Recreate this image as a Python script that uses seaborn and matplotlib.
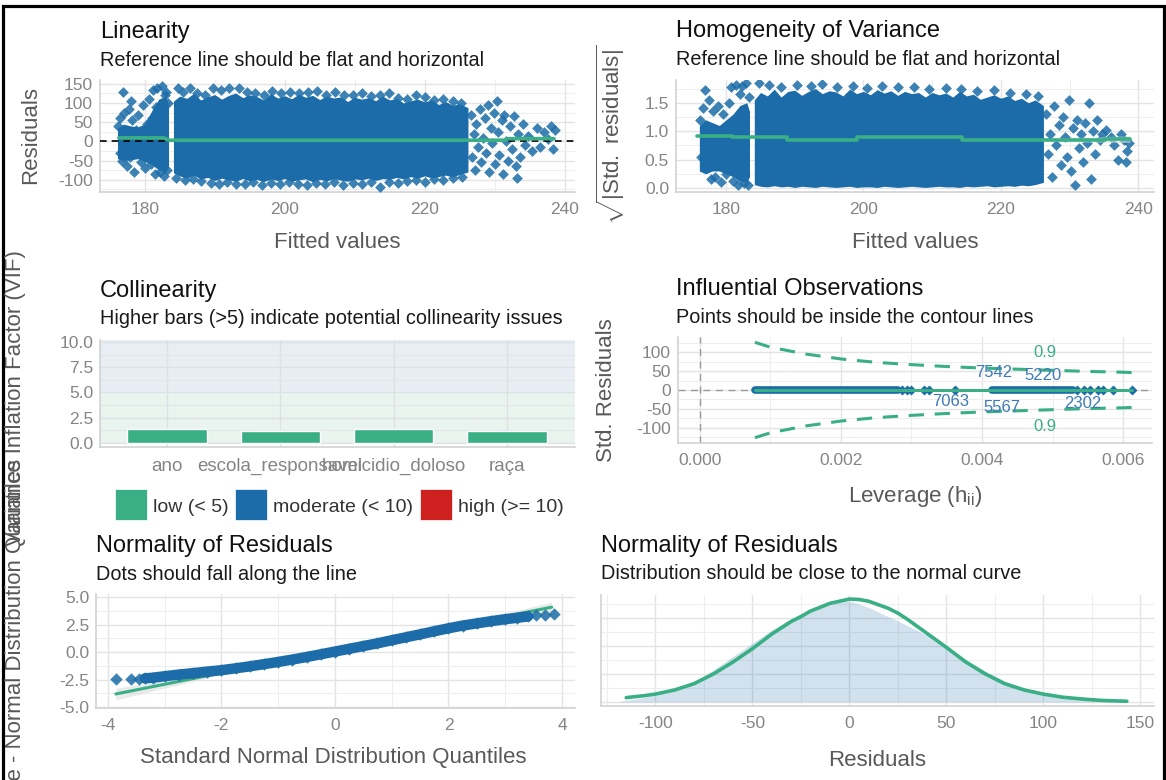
import matplotlib
matplotlib.use("Agg")
import matplotlib.pyplot as plt
import seaborn as sns
import pandas as pd
from matplotlib.patches import Rectangle
from matplotlib.ticker import MultipleLocator, FormatStrFormatter

# ---------------------------------------------------------------- data
# Fitted values vs residuals: dense cores given by lower/upper envelopes
core_left_x = [176.1, 177.0, 178.0, 179.0, 180.0, 181.0, 182.0, 183.0, 183.4]
core_main_x = [184.1, 185, 186, 187, 188, 189, 190, 191, 192, 193, 194, 195, 196, 197,
               198, 199, 200, 201, 202, 203, 204, 205, 206, 207, 208, 209, 210, 211,
               212, 213, 214, 215, 216, 217, 218, 219, 220, 221, 222, 223, 224, 225, 226.2]

lin_left_hi = [35, 45, 40, 38, 45, 80, 110, 118, 95]
lin_left_lo = [-45, -50, -48, -45, -52, -60, -75, -80, -65]
lin_main_hi = [105, 118, 112, 125, 108, 116, 122, 110, 120, 126, 114, 121, 117, 108,
               124, 113, 119, 111, 123, 115, 120, 109, 118, 113, 116, 104, 115, 110,
               114, 106, 118, 108, 112, 100, 106, 110, 103, 108, 96, 104, 94, 98, 88]
lin_main_lo = [-82, -90, -96, -88, -98, -94, -102, -96, -100, -104, -97, -103, -99, -105,
               -98, -102, -97, -104, -100, -98, -105, -99, -103, -97, -101, -104, -98, -100,
               -96, -102, -97, -99, -94, -98, -92, -96, -90, -95, -92, -88, -93, -86, -80]

# individual residuals: left block, edges of the main block, sparse right tail
lin_pts_x = [176.2, 176.4, 176.5, 176.7, 176.9, 177.2, 177.4, 177.7, 177.9, 178.2, 178.5,
             178.8, 179.1, 179.4, 179.7, 180.0, 180.3, 180.6, 180.9, 181.2, 181.5, 181.8,
             182.1, 182.4, 182.7, 183.0, 183.2, 183.3, 182.9, 182.2, 181.6, 181.0, 179.9,
             178.0, 177.0,
             184.7, 185.5, 186.4, 187.5, 188.6, 189.8, 190.9, 192.1, 193.4, 194.6, 195.8,
             197.0, 198.2, 199.5, 200.8, 202.0, 203.3, 204.6, 205.9, 207.2, 208.5, 209.8,
             211.0, 212.3, 213.6, 214.9, 216.2, 217.5, 218.8, 220.1, 221.4, 222.7, 224.0, 225.2,
             184.5, 185.7, 186.9, 188.1, 189.4, 190.6, 191.8, 193.0, 194.3, 195.5, 196.7,
             198.0, 199.3, 200.6, 201.9, 203.2, 204.5, 205.8, 207.1, 208.4, 209.7, 211.0,
             212.3, 213.6, 214.9, 216.2, 217.5, 218.8, 220.1, 221.4, 222.7, 224.0, 225.3,
             226.6, 226.8, 227.0, 227.2, 227.4, 227.6, 227.9, 228.1, 228.3, 228.6, 228.8,
             229.0, 229.2, 229.5, 229.7, 229.9, 230.1, 230.3, 230.5, 230.7, 231.0, 231.2,
             231.4, 231.7, 231.9, 232.2, 232.5, 232.8, 233.0, 233.2, 233.4, 233.7, 234.0,
             234.3, 234.8, 235.3, 236.0, 236.5, 237.0, 237.6, 238.0, 238.3, 238.6]
lin_pts_y = [40, -30, 60, -50, 130, 20, -65, 85, -40, 55, -80,
             30, 70, -55, 95, -70, 45, 110, -60, 135, -85, 140,
             70, 145, -90, 130, -75, 100, 120, -80, 90, 60, 20,
             105, 75,
             138, 128, 140, 125, 122, 140, 133, 138, 140, 128, 125,
             121, 132, 126, 130, 127, 128, 131, 122, 128, 120, 121,
             125, 119, 122, 126, 114, 110, 121, 116, 108, 111, 104, 99,
             -96, -102, -98, -104, -108, -112, -106, -110, -112, -106, -114,
             -109, -112, -106, -112, -114, -109, -111, -106, -113, -109, -111,
             -106, -118, -106, -109, -103, -101, -106, -99, -101, -96, -93,
             70, -40, 20, -75, 45, -15, 85, -55, 10, 60, -30,
             95, -80, 35, -5, 75, -60, 105, 25, -35, 55, -85,
             70, 0, -50, 40, -20, 65, -65, -95, 20, -40, 45,
             -10, 15, -25, 35, -15, 25, 5, 40, -20, 30]
lin_smooth_x = [176.3, 182.7, 183.5, 226.0, 231.5, 232.0, 238.5]
lin_smooth_y = [9, 9, 3, 3, 3, 7, 7]

# sqrt(|standardised residuals|) vs fitted values
hom_left_hi = [1.1, 1.2, 1.15, 1.1, 1.2, 1.3, 1.45, 1.5, 1.35]
hom_left_lo = [0.3, 0.25, 0.3, 0.3, 0.25, 0.2, 0.12, 0.1, 0.2]
hom_main_hi = [1.55, 1.68, 1.62, 1.74, 1.6, 1.7, 1.72, 1.63, 1.7, 1.75, 1.66, 1.71, 1.69,
               1.62, 1.74, 1.66, 1.7, 1.64, 1.73, 1.67, 1.71, 1.63, 1.7, 1.66, 1.68, 1.6,
               1.68, 1.64, 1.67, 1.6, 1.7, 1.62, 1.65, 1.56, 1.6, 1.64, 1.58, 1.62, 1.54,
               1.58, 1.5, 1.55, 1.45]
hom_main_lo = [0.06, 0.03, 0.02, 0.04, 0.02, 0.03, 0.01, 0.03, 0.02, 0.01, 0.03, 0.02,
               0.01, 0.02, 0.03, 0.01, 0.02, 0.02, 0.01, 0.03, 0.02, 0.01, 0.02, 0.03,
               0.02, 0.01, 0.02, 0.03, 0.02, 0.02, 0.01, 0.03, 0.02, 0.03, 0.04, 0.02,
               0.03, 0.04, 0.03, 0.05, 0.04, 0.06, 0.1]
hom_pts_x = [176.2, 176.4, 176.6, 176.9, 177.2, 177.5, 177.8, 178.1, 178.4, 178.8, 179.2,
             179.6, 180.0, 180.4, 180.7, 181.0, 181.4, 181.7, 182.0, 182.3, 182.6, 182.9,
             183.2, 183.3,
             184.8, 186.2, 188.0, 190.3, 192.4, 194.0, 196.1, 198.4, 200.5, 202.7, 205.0,
             207.3, 209.6, 212.0, 214.2, 216.5, 219.0, 221.3, 223.6, 225.4,
             226.6, 226.9, 227.2, 227.5, 227.8, 228.1, 228.4, 228.7, 229.0, 229.3, 229.6,
             229.9, 230.2, 230.5, 230.8, 231.1, 231.4, 231.7, 232.0, 232.3, 232.6, 232.9,
             233.1, 233.4, 233.7, 234.0, 234.4, 234.8, 235.3, 236.0, 236.5, 237.0, 237.5,
             238.0, 238.3, 238.6, 238.2]
hom_pts_y = [1.2, 0.55, 1.4, 1.72, 0.35, 1.55, 0.15, 1.35, 0.2, 1.45, 0.1,
             1.3, 0.25, 1.5, 1.78, 0.12, 1.82, 0.05, 1.65, 1.8, 0.08, 1.85,
             0.05, 1.6,
             1.85, 1.82, 1.78, 1.82, 1.8, 1.83, 1.78, 1.8, 1.76, 1.8, 1.77,
             1.78, 1.75, 1.76, 1.74, 1.7, 1.72, 1.68, 1.65, 1.62,
             1.3, 0.6, 0.95, 0.2, 1.45, 0.75, 1.1, 0.4, 1.25, 0.9, 0.55,
             1.55, 0.3, 1.05, 0.05, 1.2, 0.7, 0.95, 0.45, 1.15, 0.8, 1.5,
             0.15, 1.0, 0.6, 1.2, 0.85, 0.95, 1.02, 0.9, 0.75, 0.5, 0.95,
             0.85, 0.65, 0.8, 0.45]
hom_smooth_x = [175.7, 180.8, 180.8, 188.8, 188.8, 199.0, 199.0, 214.3, 214.3, 235.1, 235.1, 238.8]
hom_smooth_y = [0.91, 0.91, 0.89, 0.89, 0.85, 0.85, 0.89, 0.89, 0.85, 0.85, 0.87, 0.87]
hom_ci_x = [226.0, 232.0, 238.8]
hom_ci_lo = [0.83, 0.81, 0.80]
hom_ci_hi = [0.87, 0.89, 0.92]

# Variance inflation factors
vif_terms = ["ano", "escola_responsavel", "homicidio_doloso", "raça"]
vif_values = [1.36, 1.22, 1.36, 1.22]
vif_classes = ["low (< 5)", "moderate (< 10)", "high (>= 10)"]

# Leverage vs standardised residuals
lev_dense_a = [0.00078, 0.00281]
lev_dense_b = [0.00414, 0.00529]
lev_sparse = [0.00286, 0.00293, 0.00300, 0.00318, 0.00325, 0.00362,
              0.00535, 0.00545, 0.00553, 0.00565, 0.00572, 0.00585, 0.00613]
res_sparse = [1.2, -0.8, 0.5, -1.1, 0.9, 0.3, -0.6, 1.0, -0.4, 0.7, -1.2, 0.2, 0.4]
cook_h = [0.00078, 0.001, 0.0015, 0.002, 0.0025, 0.003, 0.0035, 0.004,
          0.0045, 0.005, 0.0055, 0.006, 0.00613]
cook_09_hi = [126, 113, 95, 82, 73, 67, 62, 58, 55, 52, 49, 47, 46]
cook_09_lo = [-126, -113, -95, -82, -73, -67, -62, -58, -55, -52, -49, -47, -46]
flag_ids = ["7542", "5220", "7063", "5567", "2302"]
flag_h = [0.00416, 0.00487, 0.00355, 0.00428, 0.00543]
flag_r = [45, 39, -31, -45, -35]

# Q-Q plot of standardised residuals
qq_theo = [-3.35, -3.2, -3.0, -2.75, -2.5, -2.25, -2.0, -1.75, -1.5, -1.25, -1.0,
           -0.75, -0.5, -0.25, 0.0, 0.25, 0.5, 0.75, 1.0, 1.25, 1.5, 1.75, 2.0,
           2.25, 2.5, 2.75, 3.0, 3.2, 3.4]
qq_samp = [-2.4, -2.33, -2.2, -2.05, -1.92, -1.78, -1.65, -1.48, -1.3, -1.1, -0.9,
           -0.68, -0.45, -0.2, 0.05, 0.3, 0.55, 0.8, 1.08, 1.35, 1.62, 1.9, 2.17,
           2.42, 2.62, 2.82, 3.0, 3.12, 3.25]
qq_tail_theo = [-3.86, -3.6, -3.45, 3.55, 3.7, 3.86]
qq_tail_samp = [-2.48, -2.48, -2.45, 3.38, 3.42, 3.45]
qq_ref_x = [-3.86, 3.82]
qq_ref_y = [-3.82, 4.1]
qq_ci_x = [-3.86, -2.0, 0.0, 2.0, 3.82]
qq_ci_lo = [-4.35, -2.05, 0.08, 2.07, 3.65]
qq_ci_hi = [-3.3, -1.75, 0.24, 2.37, 4.55]

# Residual density vs normal curve
dens_x = [-118, -110, -100, -90, -80, -75, -70, -60, -50, -40, -30, -25, -20, -10, -5,
          0, 5, 10, 20, 25, 30, 40, 50, 60, 70, 75, 80, 90, 100, 110, 120, 130, 143]
dens_y = [0.00005, 0.0002, 0.00045, 0.00085, 0.00145, 0.00185, 0.0023, 0.00325, 0.0042,
          0.00515, 0.00595, 0.0063, 0.00665, 0.00715, 0.0073, 0.0072, 0.007, 0.00675,
          0.0061, 0.0058, 0.00545, 0.00475, 0.00395, 0.00305, 0.0022, 0.00185, 0.0015,
          0.001, 0.00065, 0.00042, 0.00025, 0.00014, 0.00006]
norm_x = [-115, -105, -100, -90, -80, -75, -70, -60, -50, -40, -30, -25, -20, -10, 0,
          5, 10, 20, 25, 30, 40, 50, 60, 70, 75, 80, 90, 100, 110, 120, 130, 143]
norm_y = [0.0003, 0.00045, 0.00055, 0.00085, 0.0013, 0.00165, 0.002, 0.00285, 0.0038,
          0.00485, 0.00575, 0.0061, 0.0065, 0.00705, 0.00736, 0.00733, 0.0072, 0.0067,
          0.00635, 0.0059, 0.0049, 0.0039, 0.00285, 0.002, 0.00165, 0.0013, 0.00085,
          0.00055, 0.00033, 0.0002, 0.0001, 0.00004]

# ---------------------------------------------------------------- style
GREEN, BLUE, RED = "#3aaf85", "#1b6ca8", "#cd201f"
GRID, GRID_MINOR, AXLINE = "#e4e4e4", "#eeeeee", "#d2d2d2"
TICK_C, LABEL_C = "#858585", "#595959"
TICK_FS, LABEL_FS, TITLE_FS, SUB_FS = 12.5, 16, 17, 14.3

sns.set_theme(style="white")
plt.rcParams["font.family"] = ["Liberation Sans", "DejaVu Sans"]
plt.rcParams["mathtext.fontset"] = "custom"
plt.rcParams["mathtext.rm"] = "Liberation Sans"
plt.rcParams["mathtext.it"] = "Liberation Sans:italic"
plt.rcParams["axes.unicode_minus"] = False

W, H = 1166, 780
fig = plt.figure(figsize=(W / 100, H / 100), dpi=100)
fig.patch.set_facecolor("white")


def panel(l, t, r, b):
    ax = fig.add_axes([l / W, 1 - b / H, (r - l) / W, (b - t) / H])
    ax.set_facecolor("white")
    return ax


def finish(ax, xmaj=None, xmin=None, ymaj=None, ymin=None):
    if xmaj is not None:
        ax.xaxis.set_major_locator(MultipleLocator(xmaj))
    if xmin is not None:
        ax.xaxis.set_minor_locator(MultipleLocator(xmin))
    if ymaj is not None:
        ax.yaxis.set_major_locator(MultipleLocator(ymaj))
    if ymin is not None:
        ax.yaxis.set_minor_locator(MultipleLocator(ymin))
    for side in ("top", "right"):
        ax.spines[side].set_visible(False)
    for side in ("left", "bottom"):
        ax.spines[side].set_color(AXLINE)
        ax.spines[side].set_linewidth(1.2)
    ax.set_axisbelow(True)
    ax.grid(True, which="major", color=GRID, lw=1.0)
    ax.grid(True, which="minor", color=GRID_MINOR, lw=0.8)
    ax.tick_params(which="both", length=0, labelsize=TICK_FS, labelcolor=TICK_C)
    ax.tick_params(axis="x", pad=7)
    ax.tick_params(axis="y", pad=5)
    ax.set(xlabel="", ylabel="")


def heading(x, yt, ys, title, sub):
    fig.text(x / W, 1 - yt / H, title, fontsize=TITLE_FS, color="#111111", va="baseline")
    fig.text(x / W, 1 - ys / H, sub, fontsize=SUB_FS, color="#1a1a1a", va="baseline")


def label(x, y, s, rot=0, va="center"):
    fig.text(x / W, 1 - y / H, s, fontsize=LABEL_FS, color=LABEL_C,
             rotation=rot, ha="center", va=va)


PT = dict(marker="D", s=30, color=BLUE, linewidth=0, alpha=0.85, legend=False)

# ---------------------------------------------------------------- Linearity
ax1 = panel(100, 80, 575, 192)
ax1.fill_between(core_left_x, lin_left_lo, lin_left_hi, color=BLUE, lw=0, zorder=2)
ax1.fill_between(core_main_x, lin_main_lo, lin_main_hi, color=BLUE, lw=0, zorder=2)
sns.scatterplot(x=lin_pts_x, y=lin_pts_y, ax=ax1, zorder=3, **PT)
ax1.axhline(0, color="black", lw=1.2, ls=(0, (4, 3)), zorder=4)
sns.lineplot(x=lin_smooth_x, y=lin_smooth_y, ax=ax1, color=GREEN, lw=2.6,
             estimator=None, sort=False, zorder=5)
ax1.set_xlim(173.6, 241.5)
ax1.set_ylim(-132, 160)
finish(ax1, 20, 10, 50, 25)
heading(100, 38, 66, "Linearity", "Reference line should be flat and horizontal")
label(337, 243, "Fitted values")
label(31, 135, "Residuals", rot=90)

# ---------------------------------------------------------------- Homogeneity
ax2 = panel(676, 80, 1154, 192)
ax2.fill_between(core_left_x, hom_left_lo, hom_left_hi, color=BLUE, lw=0, zorder=2)
ax2.fill_between(core_main_x, hom_main_lo, hom_main_hi, color=BLUE, lw=0, zorder=2)
sns.scatterplot(x=hom_pts_x, y=hom_pts_y, ax=ax2, zorder=3, **PT)
ax2.fill_between(hom_ci_x, hom_ci_lo, hom_ci_hi, color="#d9d9d9", alpha=0.6, lw=0, zorder=4)
sns.lineplot(x=hom_smooth_x, y=hom_smooth_y, ax=ax2, color=GREEN, lw=2.6,
             estimator=None, sort=False, zorder=5)
ax2.set_xlim(172.7, 242.3)
ax2.set_ylim(-0.07, 1.9)
finish(ax2, 20, 10, 0.5, 0.25)
ax2.yaxis.set_major_formatter(FormatStrFormatter("%.1f"))
heading(676, 37, 65, "Homogeneity of Variance", "Reference line should be flat and horizontal")
label(915, 243, "Fitted values")
label(611, 135, r"$\sqrt{|\mathrm{Std.\ residuals}|}$", rot=90)

# ---------------------------------------------------------------- Collinearity
ax3 = panel(100, 340, 575, 447)
ax3.axhspan(0, 5, color="#eaf4ef", lw=0, zorder=0.1)
ax3.axhspan(5, 10.25, color="#e8eef3", lw=0, zorder=0.1)
vif_df = pd.DataFrame({"term": vif_terms, "vif": vif_values})
sns.barplot(data=vif_df, x="term", y="vif", color=GREEN, saturation=1, width=0.7,
            ax=ax3, zorder=3)
ax3.set_xlim(-0.59, 3.6)
ax3.set_ylim(-0.4, 10.2)
finish(ax3, None, None, 2.5, 1.25)
ax3.grid(True, which="major", color="#dde1e5", lw=1.0)
ax3.grid(True, which="minor", color="#e2e6e9", lw=0.8)
ax3.yaxis.set_major_formatter(FormatStrFormatter("%.1f"))
ax3.tick_params(axis="x", labelsize=13.5, pad=8)
heading(100, 297, 324, "Collinearity", "Higher bars (>5) indicate potential collinearity issues")
fig.text(16 / W, 1 - 250 / H, "Variance Inflation Factor (VIF)", fontsize=LABEL_FS,
         color=LABEL_C, rotation=90, ha="center", va="top")

# legend of VIF classes
for (x0, cls, col) in zip([115, 235, 420], vif_classes, [GREEN, BLUE, RED]):
    fig.patches.append(Rectangle((x0 / W, 1 - 520 / H), 32 / W, 31 / H,
                                 transform=fig.transFigure, facecolor=col,
                                 edgecolor="white", lw=0.5))
    fig.text((x0 + 38) / W, 1 - 507 / H, cls, fontsize=14, color="#333333", va="center")

# ---------------------------------------------------------------- Influential obs.
ax4 = panel(678, 337, 1152, 443)
ax4.axvline(0, color="#9a9a9a", lw=1.0, ls=(0, (5, 4)), zorder=1)
ax4.axhline(0, color="#9a9a9a", lw=1.0, ls=(0, (5, 4)), zorder=1)
for seg in (lev_dense_a, lev_dense_b):
    sns.lineplot(x=seg, y=[0, 0], ax=ax4, color=BLUE, lw=5.5, estimator=None,
                 sort=False, zorder=3)
sns.scatterplot(x=lev_sparse, y=res_sparse, ax=ax4, zorder=3,
                **{**PT, "s": 26, "alpha": 1})
sns.lineplot(x=[lev_dense_a[0], lev_sparse[-1]], y=[0, 0], ax=ax4, color=GREEN, lw=2.2,
             estimator=None, sort=False, zorder=4)
for ys in (cook_09_hi, cook_09_lo):
    sns.lineplot(x=cook_h, y=ys, ax=ax4, color=GREEN, lw=2.2, ls=(0, (5, 3.5)),
                 estimator=None, sort=False, zorder=4)
ax4.text(0.00489, 98, "0.9", color=GREEN, fontsize=12, ha="center", va="center", zorder=6)
ax4.text(0.00489, -97, "0.9", color=GREEN, fontsize=12, ha="center", va="center", zorder=6)
for t, hx, ry in zip(flag_ids, flag_h, flag_r):
    ax4.text(hx, ry, t, color="#3d7ab8", fontsize=12, ha="center", va="center", zorder=6)
ax4.set_xlim(-0.00031, 0.00641)
ax4.set_ylim(-140, 140)
finish(ax4, 0.002, 0.001, 50, 25)
ax4.xaxis.set_major_formatter(FormatStrFormatter("%.3f"))
heading(676, 295, 323, "Influential Observations", "Points should be inside the contour lines")
label(915, 497, r"Leverage (h$_{\mathrm{ii}}$)")
label(607, 390, "Std. Residuals", rot=90)

# ---------------------------------------------------------------- Q-Q plot
ax5 = panel(96, 594, 575, 708)
ax5.fill_between(qq_ci_x, qq_ci_lo, qq_ci_hi, color="#d9d9d9", alpha=0.55, lw=0, zorder=1)
sns.lineplot(x=qq_ref_x, y=qq_ref_y, ax=ax5, color=GREEN, lw=2.2, estimator=None,
             sort=False, zorder=2)
sns.lineplot(x=qq_theo, y=qq_samp, ax=ax5, color=BLUE, lw=7.5, estimator=None,
             sort=False, zorder=3)
sns.scatterplot(x=qq_theo + qq_tail_theo, y=qq_samp + qq_tail_samp, ax=ax5, zorder=4,
                **{**PT, "s": 40})
ax5.set_xlim(-4.21, 4.23)
ax5.set_ylim(-5.1, 5.3)
finish(ax5, 2, 1, 2.5, 1.25)
ax5.yaxis.set_major_formatter(FormatStrFormatter("%.1f"))
heading(96, 552, 580, "Normality of Residuals", "Dots should fall along the line")
label(333, 758, "Standard Normal Distribution Quantiles")
fig.text(16 / W, 1 - 459 / H, "Sample Quantile - Normal Distribution Quantiles",
         fontsize=LABEL_FS, color=LABEL_C, rotation=90, ha="center", va="top")

# ---------------------------------------------------------------- density
ax6 = panel(601, 595, 1154, 706)
ax6.fill_between(dens_x, 0, dens_y, color=BLUE, alpha=0.2, lw=0, zorder=2)
sns.lineplot(x=norm_x, y=norm_y, ax=ax6, color=GREEN, lw=2.6, estimator=None,
             sort=False, zorder=3)
ax6.set_xlim(-128, 157)
ax6.set_ylim(-0.0003, 0.00765)
finish(ax6, 50, 25, 0.002, 0.001)
ax6.tick_params(axis="y", labelleft=False)
heading(601, 552, 579, "Normality of Residuals", "Distribution should be close to the normal curve")
label(877, 760, "Residuals")

# ---------------------------------------------------------------- frame
fig.patches.append(Rectangle((3 / W, 1 - 800 / H), 1160.5 / W, 794 / H,
                             transform=fig.transFigure, fill=False,
                             edgecolor="black", lw=2.3))

fig.savefig("out.png", dpi=100, facecolor="white")
